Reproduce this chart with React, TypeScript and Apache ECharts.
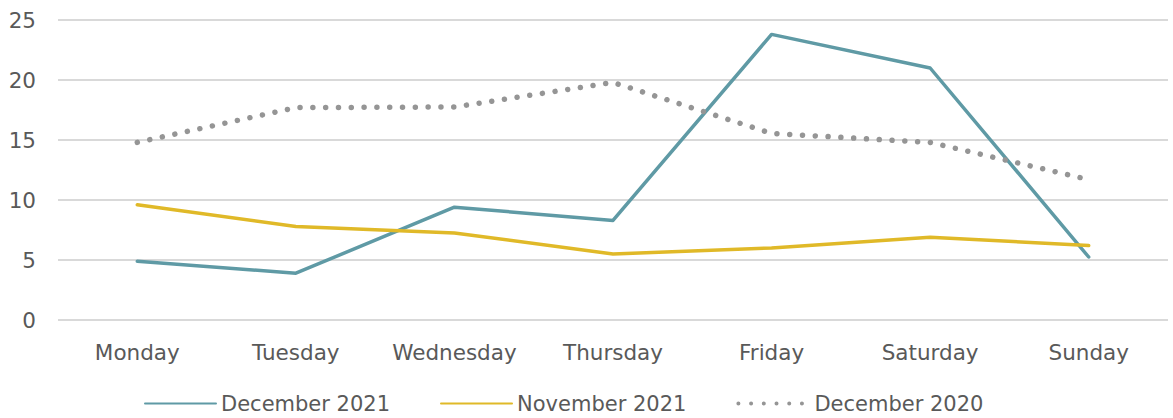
import React, { useEffect, useRef } from "react";
import * as echarts from "echarts";

const categories = ["Monday", "Tuesday", "Wednesday", "Thursday", "Friday", "Saturday", "Sunday"];
const dec2021 = [4.9, 3.9, 9.4, 8.3, 23.8, 21.0, 5.25];
const nov2021 = [9.6, 7.8, 7.25, 5.5, 6.0, 6.9, 6.2];
const dec2020 = [14.8, 17.7, 17.75, 19.8, 15.55, 14.8, 11.7];

const FONT = "'DejaVu Sans', sans-serif";
const TEXT = "#595959";

export default function App() {
  const ref = useRef<HTMLDivElement>(null);
  useEffect(() => {
    const chart = echarts.init(ref.current!, null, { renderer: "svg" });
    chart.setOption({
      animation: false,
      grid: { left: 58, right: 5, top: 20, bottom: 98, containLabel: false },
      legend: {
        top: 388,
        left: 139,
        itemWidth: 71,
        itemHeight: 10,
        itemGap: 50,
        itemStyle: { opacity: 0 },
        textStyle: { color: TEXT, fontSize: 21, fontFamily: FONT },
        data: [
          { name: "December 2021" },
          { name: "November 2021" },
          { name: "December 2020", lineStyle: { width: 4, type: [0.01, 12.7], cap: "round" } },
        ],
      },
      xAxis: {
        type: "category",
        data: categories,
        boundaryGap: true,
        axisLine: { show: false },
        axisTick: { show: false },
        axisLabel: { interval: 0, color: TEXT, fontSize: 21.5, fontFamily: FONT, margin: 21 },
      },
      yAxis: {
        type: "value",
        min: 0,
        max: 25,
        interval: 5,
        axisLine: { show: false },
        axisTick: { show: false },
        axisLabel: { color: TEXT, fontSize: 21.5, fontFamily: FONT, margin: 22 },
        splitLine: { lineStyle: { color: "#d9d9d9", width: 2 } },
      },
      series: [
        {
          name: "December 2021",
          type: "line",
          data: dec2021,
          symbol: "none",
          lineStyle: { color: "#5f9aa5", width: 3.5, cap: "round", join: "round" },
          itemStyle: { color: "#5f9aa5" },
        },
        {
          name: "November 2021",
          type: "line",
          data: nov2021,
          symbol: "none",
          lineStyle: { color: "#e0b928", width: 3.5, cap: "round", join: "round" },
          itemStyle: { color: "#e0b928" },
        },
        {
          name: "December 2020",
          type: "line",
          data: dec2020,
          symbol: "none",
          lineStyle: { color: "#959595", width: 5.5, type: [0.01, 12.8], cap: "round", join: "round" },
          itemStyle: { color: "#959595" },
        },
      ],
    });
    return () => chart.dispose();
  }, []);
  return <div ref={ref} style={{ width: 1173, height: 418, position: "absolute", left: 0, top: 0 }} />;
}
